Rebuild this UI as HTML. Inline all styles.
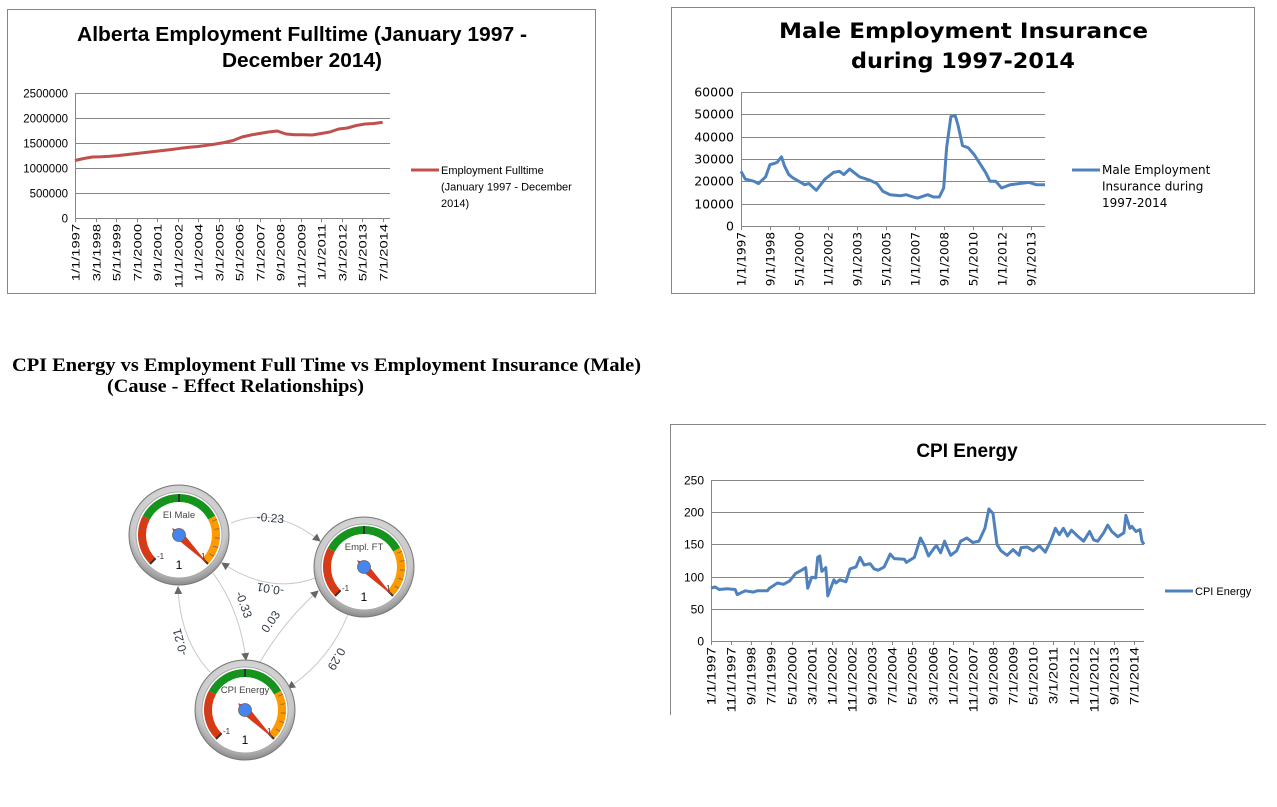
<!DOCTYPE html>
<html><head><meta charset="utf-8">
<style>
html,body{margin:0;padding:0;background:#fff;}
svg{display:block;font-family:"Liberation Sans",sans-serif;}
</style></head>
<body>
<svg id="root" width="1277" height="807" viewBox="0 0 1277 807" xmlns="http://www.w3.org/2000/svg">
<rect x="7.5" y="9.5" width="588" height="284" fill="none" stroke="#868686"/>
<rect x="671.5" y="7.5" width="583" height="286" fill="none" stroke="#868686"/>
<path d="M670.5 715 V424.5 H1266" fill="none" stroke="#868686"/>
<text x="77" y="41" textLength="450" lengthAdjust="spacingAndGlyphs" font-size="20" font-weight="bold">Alberta Employment Fulltime (January 1997 -</text>
<text x="222" y="67" textLength="160" lengthAdjust="spacingAndGlyphs" font-size="20" font-weight="bold">December 2014)</text>
<text x="779" y="38" textLength="369" lengthAdjust="spacingAndGlyphs" font-size="21" font-weight="bold" font-family="DejaVu Sans, sans-serif">Male Employment Insurance</text>
<text x="851" y="68" textLength="224" lengthAdjust="spacingAndGlyphs" font-size="21" font-weight="bold" font-family="DejaVu Sans, sans-serif">during 1997-2014</text>
<text x="967" y="457" text-anchor="middle" font-size="19" font-weight="bold">CPI Energy</text>
<text x="12" y="371" textLength="629" lengthAdjust="spacingAndGlyphs" font-size="19" font-weight="bold" font-family="Liberation Serif, serif">CPI Energy vs Employment Full Time vs Employment Insurance (Male)</text>
<text x="107" y="392" textLength="257" lengthAdjust="spacingAndGlyphs" font-size="19" font-weight="bold" font-family="Liberation Serif, serif">(Cause - Effect Relationships)</text>
<defs>
<radialGradient id="rim" cx="50%" cy="40%" r="60%"><stop offset="0" stop-color="#f4f4f4"/><stop offset="0.8" stop-color="#c8c8c8"/><stop offset="1" stop-color="#8a8a8a"/></radialGradient>
<marker id="arr" markerWidth="8" markerHeight="8" refX="7" refY="4" orient="auto"><path d="M0,0 L8,4 L0,8 z" fill="#666"/></marker>
</defs>
<g id="g1"></g><g id="g2"></g><g id="g3"></g><g id="g4"></g>
</svg>
<script>
// ---------- data ----------
var empYears = ["1997","1997.5","1998","1998.5","1999","1999.5","2000","2000.5","2001","2001.5","2002","2002.5","2003","2003.5","2004","2004.5","2005","2005.5","2006","2006.5","2007","2007.5","2008","2008.5","2009","2009.5","2010","2010.5","2011","2011.5","2012","2012.5","2013","2013.5","2014","2014.5"];
var empValues = [1150000,1190000,1220000,1225000,1235000,1250000,1270000,1290000,1310000,1330000,1350000,1370000,1395000,1415000,1430000,1455000,1480000,1510000,1550000,1620000,1660000,1690000,1720000,1740000,1680000,1665000,1665000,1660000,1690000,1720000,1780000,1800000,1850000,1880000,1890000,1915000];
var empTicks = ["1/1/1997","3/1/1998","5/1/1999","7/1/2000","9/1/2001","11/1/2002","1/1/2004","3/1/2005","5/1/2006","7/1/2007","9/1/2008","11/1/2009","1/1/2011","3/1/2012","5/1/2013","7/1/2014"];
var empYTicks = [0,500000,1000000,1500000,2000000,2500000];

var eiMonths = [0,3,6,9,12,17,20,23,25,28,30,33,36,40,44,47,52,58,64,68,71,75,82,89,94,98,103,110,114,119,122,129,133,137,140,142,145,148,150,153,157,161,166,169,172,176,180,186,192,199,204,210];
var eiValues = [24500,21000,20500,20000,19000,22000,27500,28000,28500,31000,27000,23000,21500,20000,18500,19000,16000,21000,24000,24500,23000,25500,22000,20500,19000,15500,14000,13500,14000,13000,12500,14000,13000,13000,17000,35000,49000,49500,45000,36000,35000,32000,27000,24000,20000,20000,17000,18500,19000,19500,18500,18500];
var eiTicks = ["1/1/1997","9/1/1998","5/1/2000","1/1/2002","9/1/2003","5/1/2005","1/1/2007","9/1/2008","5/1/2010","1/1/2012","9/1/2013"];
var eiYTicks = [0,10000,20000,30000,40000,50000,60000];

var cpiMonths = [0,2,4,8,12,13,17,21,23,28,29,33,36,39,42,45,47,48,50,52,53,54,55,57,58,61,62,64,67,69,72,74,76,79,81,83,86,89,91,96,97,101,104,106,108,111,112,114,116,117,119,122,124,127,130,133,136,138,140,142,144,147,150,153,154,157,160,163,166,169,171,173,175,177,179,182,185,188,190,192,195,197,199,202,205,206,208,209,211,213,214,215];
var cpiValues = [82,84,80,81,80,72,78,76,78,78,82,90,88,93,105,110,114,82,99,98,130,132,108,114,70,95,90,95,92,112,115,130,118,120,112,110,115,135,128,127,122,130,160,148,132,145,148,137,155,147,133,140,155,160,153,155,175,205,198,150,140,133,142,133,145,146,140,148,138,158,175,165,175,163,172,163,155,170,157,155,168,180,170,162,168,195,175,178,170,173,155,150];
var cpiTicks = ["1/1/1997","11/1/1997","9/1/1998","7/1/1999","5/1/2000","3/1/2001","1/1/2002","11/1/2002","9/1/2003","7/1/2004","5/1/2005","3/1/2006","1/1/2007","11/1/2007","9/1/2008","7/1/2009","5/1/2010","3/1/2011","1/1/2012","11/1/2012","9/1/2013","7/1/2014"];
var cpiYTicks = [0,50,100,150,200,250];

var NS = "http://www.w3.org/2000/svg";
function mk(parent, tag, attrs, name, inter) {
  var el = document.createElementNS(NS, tag);
  for (var k in attrs) el.setAttribute(k, attrs[k]);
  
  
  parent.appendChild(el);
  return el;
}
function txt(parent, x, y, s, attrs, name) {
  var el = mk(parent, 'text', attrs, name, false);
  el.setAttribute('x', x); el.setAttribute('y', y);
  el.textContent = s;
  return el;
}

function lineChart(g, cfg) {
  var xs = function (m) { return cfg.x0 + (cfg.x1 - cfg.x0) * m / cfg.mMax; };
  var ys = function (v) { return cfg.y0 - (cfg.y0 - cfg.y1) * v / cfg.yMax; };
  cfg.yTicks.forEach(function (t) {
    var y = Math.round(ys(t)) + 0.5;
    mk(g, 'line', {x1: cfg.x0, x2: cfg.x1, y1: y, y2: y, stroke: '#868686', 'stroke-width': 1}, cfg.prefix + '-gridline', false);
    txt(g, cfg.x0 - 7, y + 4, String(t), {'text-anchor': 'end', 'font-size': cfg.yfs, fill: '#000', 'font-family': cfg.tff}, cfg.prefix + '-y-tick-label');
  });
  mk(g, 'line', {x1: cfg.x0 + 0.5, x2: cfg.x0 + 0.5, y1: ys(cfg.yMax), y2: cfg.y0 + 4, stroke: '#868686'}, cfg.prefix + '-y-axis', false);
  cfg.ticks.forEach(function (t, i) {
    var x = Math.round(xs(i * cfg.tickStep)) + 0.5;
    mk(g, 'line', {x1: x, x2: x, y1: cfg.y0, y2: cfg.y0 + 4, stroke: '#868686'}, cfg.prefix + '-x-tick', false);
    txt(g, 0, 0, t, {'text-anchor': 'end', 'font-size': 11.5, 'font-family': cfg.tff, transform: 'translate(' + (x + 4) + ',' + (cfg.y0 + 6) + ') rotate(-90) scale(' + cfg.xsc + ',1)'}, cfg.prefix + '-x-tick-label');
  });
  var d = cfg.months.map(function (m, i) { return (i ? 'L' : 'M') + xs(m).toFixed(1) + ',' + ys(cfg.values[i]).toFixed(1); }).join(' ');
  mk(g, 'path', {d: d, fill: 'none', stroke: cfg.color, 'stroke-width': 3, 'stroke-linejoin': 'round'}, cfg.prefix + '-series-line', false);
  mk(g, 'line', {x1: cfg.lx, x2: cfg.lx + 28, y1: cfg.ly, y2: cfg.ly, stroke: cfg.color, 'stroke-width': 3}, cfg.prefix + '-legend-swatch', false);
  cfg.legend.forEach(function (s, i) {
    txt(g, cfg.lx + 30, cfg.ly + 4 + i * 16.5, s, {'font-size': cfg.lfs, fill: '#000', 'font-family': cfg.lff}, cfg.prefix + '-legend-label');
  });
}

lineChart(document.getElementById('g1'), {prefix: 'employment', x0: 75, x1: 390, y0: 218, y1: 93, yMax: 2500000, mMax: 215,
  yTicks: empYTicks, ticks: empTicks, tickStep: 14, months: empYears.map(function (y) { return (parseFloat(y) - 1997) * 12; }),
  values: empValues, color: '#c0504d', lx: 411, ly: 170, lfs: 11, lff: 'Liberation Sans, sans-serif', tff: 'Liberation Sans, sans-serif', yfs: 11.5, xsc: 1.28,
  legend: ['Employment Fulltime', '(January 1997 - December', '2014)']});
lineChart(document.getElementById('g2'), {prefix: 'ei', x0: 741, x1: 1045, y0: 226, y1: 92, yMax: 60000, mMax: 210,
  yTicks: eiYTicks, ticks: eiTicks, tickStep: 20, months: eiMonths, values: eiValues, color: '#4f81bd',
  lx: 1072, ly: 170, lfs: 12, lff: 'DejaVu Sans, sans-serif', tff: 'DejaVu Sans, sans-serif', yfs: 12.5, xsc: 1.05,
  legend: ['Male Employment', 'Insurance during', '1997-2014']});
lineChart(document.getElementById('g3'), {prefix: 'cpi', x0: 711, x1: 1144, y0: 641, y1: 480, yMax: 250, mMax: 215,
  yTicks: cpiYTicks, ticks: cpiTicks, tickStep: 10, months: cpiMonths, values: cpiValues, color: '#4f81bd',
  lx: 1165, ly: 591, lfs: 11, lff: 'Liberation Sans, sans-serif', tff: 'Liberation Sans, sans-serif', yfs: 12, xsc: 1.3, legend: ['CPI Energy']});

// ---------- network of gauges ----------
var g4 = document.getElementById('g4');
var edges = [
  ['M231,523 Q275,505 320,541', '-0.23', 270, 522, 5],
  ['M315,578 Q270,595 222,563', '-0.01', 271, 585, 190],
  ['M213,573 Q240,610 246,660', '-0.33', 240, 606, 70],
  ['M260,662 Q285,620 318,591', '0.03', 274, 624, -55],
  ['M348,614 Q330,660 288,688', '0.29', 333, 657, 120],
  ['M210,672 Q180,640 178,587', '-0.21', 184, 641, 255]
];
edges.forEach(function (e) {
  mk(g4, 'path', {d: e[0], fill: 'none', stroke: '#c8c8c8', 'stroke-width': 1, 'marker-end': 'url(#arr)'}, 'relationship-edge', false);
  txt(g4, 0, 0, e[1], {'text-anchor': 'middle', 'font-size': 12, fill: '#333a4a', transform: 'translate(' + e[2] + ',' + e[3] + ') rotate(' + e[4] + ')'}, 'edge-weight-label');
});
function pt(cx, cy, r, a) { var t = a * Math.PI / 180; return [cx + r * Math.sin(t), cy - r * Math.cos(t)]; }
function arc(cx, cy, r, a0, a1) {
  var p0 = pt(cx, cy, r, a0), p1 = pt(cx, cy, r, a1);
  return 'M' + p0[0] + ',' + p0[1] + ' A' + r + ',' + r + ' 0 0 1 ' + p1[0] + ',' + p1[1];
}
function gauge(cx, cy, label, name) {
  var g = mk(g4, 'g', {}, name, true);
  mk(g, 'circle', {cx: cx, cy: cy, r: 50, fill: 'url(#rim)', stroke: '#777', 'stroke-width': 1}, name + '-rim', false);
  mk(g, 'circle', {cx: cx, cy: cy, r: 43, fill: '#fff', stroke: '#aaa', 'stroke-width': 1}, name + '-face', false);
  mk(g, 'path', {d: arc(cx, cy, 37, -135, -62), fill: 'none', stroke: '#dc3912', 'stroke-width': 8}, name + '-red-band', false);
  mk(g, 'path', {d: arc(cx, cy, 37, -62, 62), fill: 'none', stroke: '#109618', 'stroke-width': 8}, name + '-green-band', false);
  mk(g, 'path', {d: arc(cx, cy, 37, 62, 135), fill: 'none', stroke: '#ff9900', 'stroke-width': 8}, name + '-orange-band', false);
  for (var a = -135; a <= 135; a += 13.5) {
    var major = Math.abs(a) === 135 || a === 0;
    var p0 = pt(cx, cy, major ? 33 : 36, a), p1 = pt(cx, cy, 41, a);
    mk(g, 'line', {x1: p0[0], y1: p0[1], x2: p1[0], y2: p1[1], stroke: major ? '#333' : '#666', 'stroke-width': major ? 2 : 0.8}, name + '-tick', false);
  }
  txt(g, cx, cy - 17, label, {'text-anchor': 'middle', 'font-size': 9.5, fill: '#444'}, name + '-label');
  txt(g, cx - 22, cy + 24, '-1', {'font-size': 8, fill: '#333'}, name + '-min-label');
  txt(g, cx + 22, cy + 24, '1', {'font-size': 8, fill: '#333'}, name + '-max-label');
  txt(g, cx, cy + 34, '1', {'text-anchor': 'middle', 'font-size': 12, fill: '#000'}, name + '-value');
  var tip = pt(cx, cy, 38, 135), tl = pt(cx, cy, 4, 45), tr = pt(cx, cy, 4, 225), back = pt(cx, cy, 9, -45);
  mk(g, 'path', {d: 'M' + back[0] + ',' + back[1] + ' L' + tl[0] + ',' + tl[1] + ' L' + tip[0] + ',' + tip[1] + ' L' + tr[0] + ',' + tr[1] + ' Z', fill: '#dc3912', stroke: '#c33', 'stroke-width': 0.6}, name + '-needle', false);
  mk(g, 'circle', {cx: cx, cy: cy, r: 6.5, fill: '#4684ee', stroke: '#666', 'stroke-width': 0.8}, name + '-hub', false);
}
gauge(179, 535, 'EI Male', 'ei-male-gauge');
gauge(364, 567, 'Empl. FT', 'employment-ft-gauge');
gauge(245, 710, 'CPI Energy', 'cpi-energy-gauge');
</script>
</body></html>
